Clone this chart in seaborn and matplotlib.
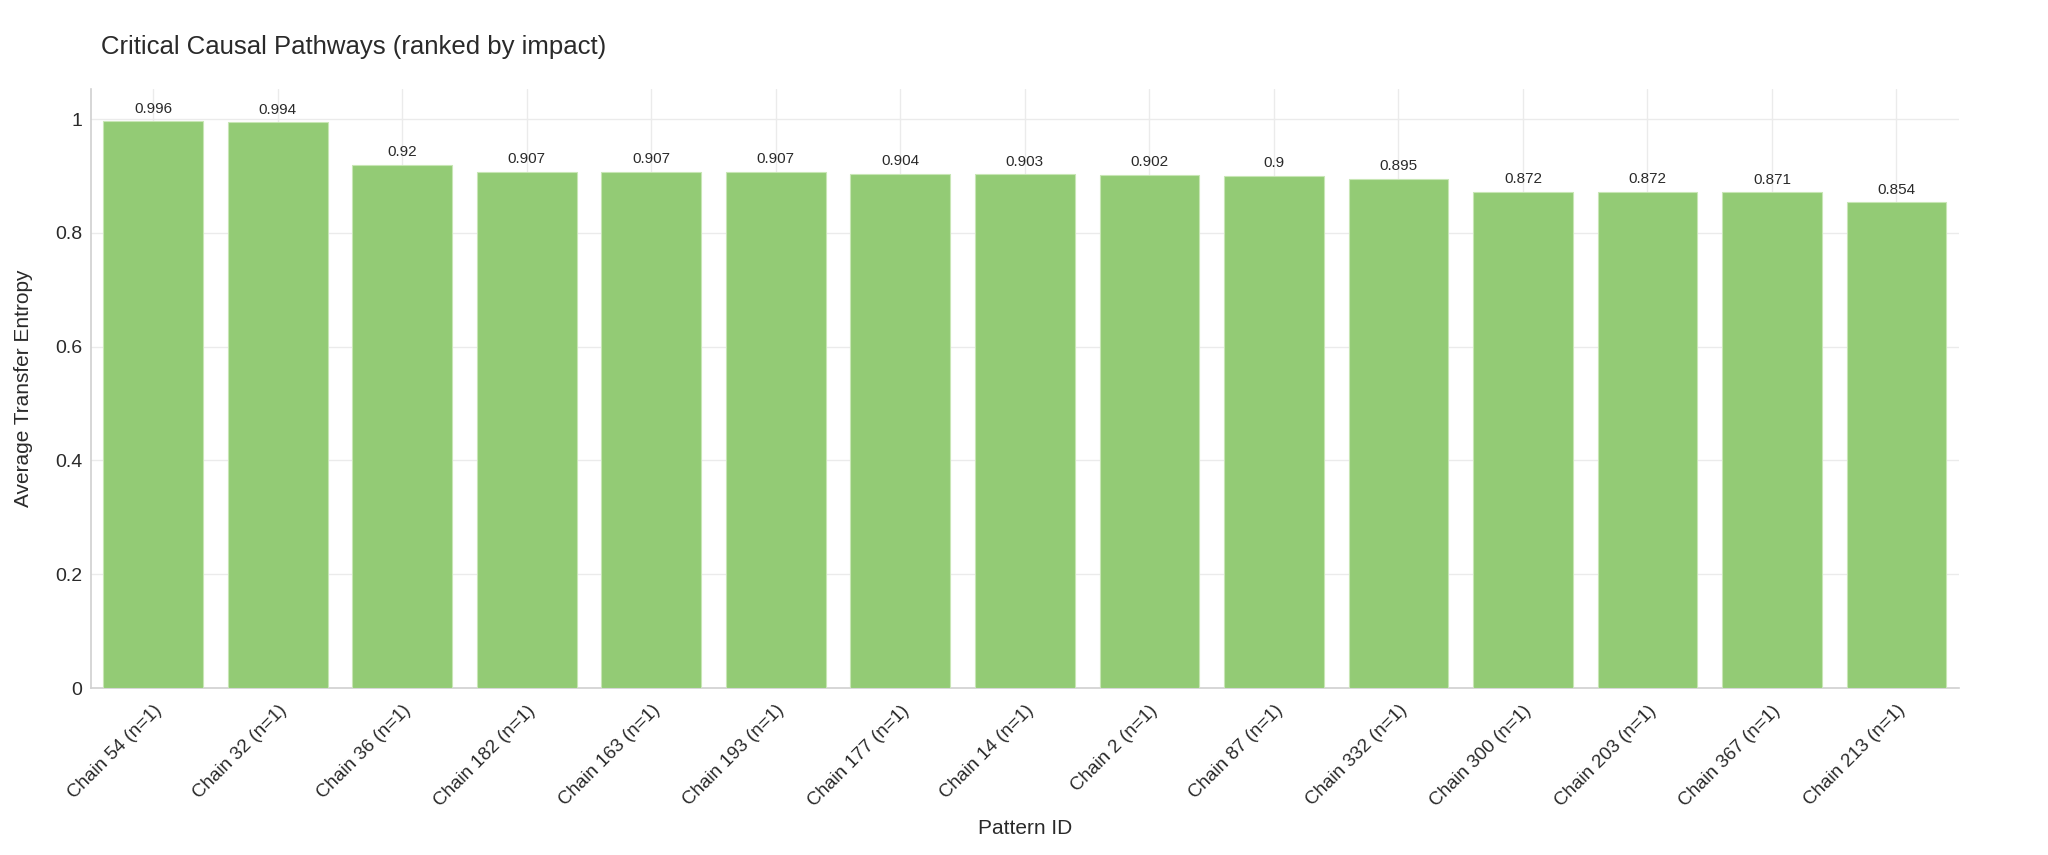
import matplotlib
matplotlib.use("Agg")
import matplotlib.pyplot as plt
import seaborn as sns
import pandas as pd

categories = ["Chain 54 (n=1)", "Chain 32 (n=1)", "Chain 36 (n=1)", "Chain 182 (n=1)",
              "Chain 163 (n=1)", "Chain 193 (n=1)", "Chain 177 (n=1)", "Chain 14 (n=1)",
              "Chain 2 (n=1)", "Chain 87 (n=1)", "Chain 332 (n=1)", "Chain 300 (n=1)",
              "Chain 203 (n=1)", "Chain 367 (n=1)", "Chain 213 (n=1)"]
values = [0.996, 0.994, 0.92, 0.907, 0.907, 0.907, 0.904, 0.903, 0.902, 0.9,
          0.895, 0.872, 0.872, 0.871, 0.854]
labels = ["0.996", "0.994", "0.92", "0.907", "0.907", "0.907", "0.904", "0.903",
          "0.902", "0.9", "0.895", "0.872", "0.872", "0.871", "0.854"]
yticks = [0, 0.2, 0.4, 0.6, 0.8, 1.0]
ytick_labels = ["0", "0.2", "0.4", "0.6", "0.8", "1"]

df = pd.DataFrame({"Pattern ID": categories, "Average Transfer Entropy": values})

sns.set_theme(style="white")
plt.rcParams["font.family"] = ["Liberation Sans", "DejaVu Sans"]

fig = plt.figure(figsize=(20.48, 8.55), dpi=100)
ax = fig.add_axes([0.0444, 0.1953, 0.912, 0.7007])

sns.barplot(data=df, x="Pattern ID", y="Average Transfer Entropy", color="#93CB75",
            saturation=1, width=0.8, ax=ax, zorder=3, edgecolor="#c8e6b5", linewidth=0.8)

for i, (v, t) in enumerate(zip(values, labels)):
    ax.annotate(t, (i, v), xytext=(0, 4), textcoords="offset points",
                ha="center", va="bottom", fontsize=11, color="#2a2a2a")

ax.set_ylim(0, 1.053)
ax.set_xlim(-0.5, len(categories) - 0.5)
ax.set_yticks(yticks)
ax.set_yticklabels(ytick_labels, fontsize=14, color="#2a2a2a")
ax.set_xticks(range(len(categories)))
ax.set_xticklabels(categories, rotation=45, ha="right", rotation_mode="anchor",
                   fontsize=13.5, color="#2a2a2a")
ax.tick_params(axis="x", length=0, pad=10)
ax.tick_params(axis="y", length=0, pad=6)
ax.grid(True, color="#ebebeb", linewidth=1, zorder=0)
ax.set_axisbelow(True)
for s in ["top", "right"]:
    ax.spines[s].set_visible(False)
for s in ["left", "bottom"]:
    ax.spines[s].set_color("#d0d0d0")
    ax.spines[s].set_linewidth(1.2)

ax.set_xlabel("Pattern ID", fontsize=15, color="#2a2a2a", labelpad=7)
ax.set_ylabel("Average Transfer Entropy", fontsize=15, color="#2a2a2a", labelpad=16)
fig.text(0.0495, 0.945, "Critical Causal Pathways (ranked by impact)", fontsize=18.5,
         color="#2a2a2a", ha="left", va="center")

fig.savefig("out.png", dpi=100, facecolor="white")
